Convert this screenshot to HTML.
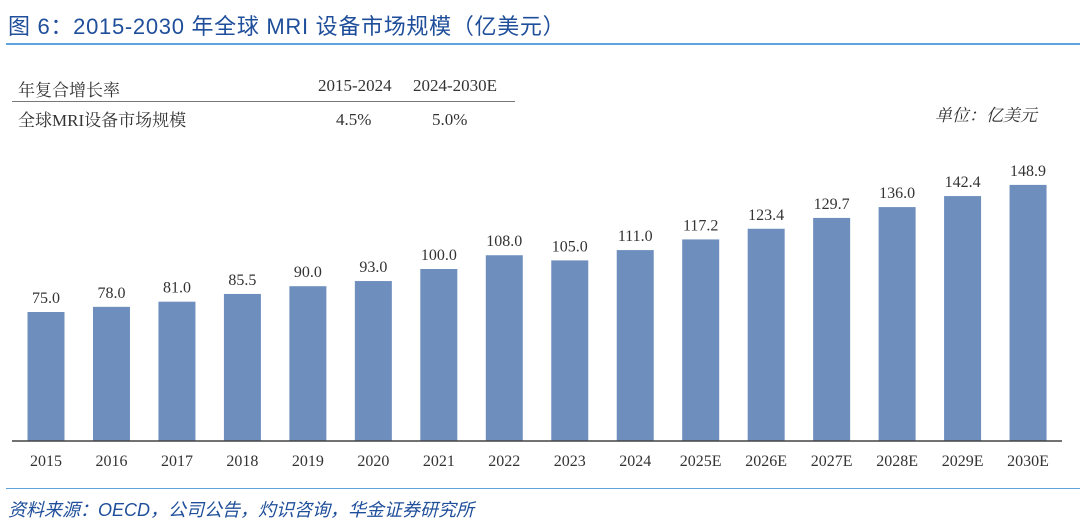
<!DOCTYPE html>
<html><head><meta charset="utf-8"><style>
body{margin:0;width:1080px;height:532px;background:#fff;overflow:hidden;font-family:"Liberation Serif","Noto Serif CJK SC",serif}
.t{position:absolute;white-space:nowrap}
</style></head><body>
<div class="t" style="left:8px;top:9px;font:22px 'Liberation Sans','Noto Sans CJK SC',sans-serif;letter-spacing:0.7px;color:#1f4e9a">图 6：2015-2030 年全球 MRI 设备市场规模（亿美元）</div>
<div style="position:absolute;left:6px;top:43px;width:1074px;height:2px;background:#5fa3dc"></div>
<div class="t" style="left:18px;top:76px;font-size:17px;color:#333">年复合增长率</div>
<div class="t" style="left:318px;top:76px;font-size:17px;color:#333">2015-2024</div>
<div class="t" style="left:413px;top:76px;font-size:17px;color:#333">2024-2030E</div>
<div style="position:absolute;left:12px;top:101px;width:503px;height:1px;background:#777"></div>
<div class="t" style="left:18px;top:106px;font-size:17px;color:#333">全球MRI设备市场规模</div>
<div class="t" style="left:336px;top:110px;font-size:17px;color:#333">4.5%</div>
<div class="t" style="left:432px;top:110px;font-size:17px;color:#333">5.0%</div>
<div class="t" style="left:935px;top:101px;font-size:17px;font-style:italic;color:#333">单位：亿美元</div>
<svg id="chart" width="1080" height="532" style="position:absolute;left:0;top:0"></svg>
<div style="position:absolute;left:6px;top:488px;width:1074px;height:1px;background:#5fa3dc"></div>
<div class="t" style="left:8px;top:496px;font:italic 18px 'Liberation Sans','Noto Sans CJK SC',sans-serif;color:#1f4e9a">资料来源：OECD，公司公告，灼识咨询，华金证券研究所</div>
<script>
const categories=["2015","2016","2017","2018","2019","2020","2021","2022","2023","2024","2025E","2026E","2027E","2028E","2029E","2030E"];
const values=[75.0,78.0,81.0,85.5,90.0,93.0,100.0,108.0,105.0,111.0,117.2,123.4,129.7,136.0,142.4,148.9];
const labels=["75.0","78.0","81.0","85.5","90.0","93.0","100.0","108.0","105.0","111.0","117.2","123.4","129.7","136.0","142.4","148.9"];
const svg=document.getElementById('chart');const NS='http://www.w3.org/2000/svg';
const base=441,scale=1.72,x0=46,step=65.47,bw=37;
const xs=i=>x0+i*step, ys=v=>base-v*scale;
function mk(t,a){const e=document.createElementNS(NS,t);for(const k in a)e.setAttribute(k,a[k]);svg.appendChild(e);return e;}
categories.forEach((c,i)=>{
 const b=mk('rect',{x:xs(i)-bw/2,y:ys(values[i]),width:bw,height:values[i]*scale,fill:'#6e8fbe'});
 
 
 const v=mk('text',{x:xs(i),y:ys(values[i])-9,'text-anchor':'middle','font-size':'16','fill':'#333','font-family':'Liberation Serif, serif'});v.textContent=labels[i];
 
 
 const t=mk('text',{x:xs(i),y:466,'text-anchor':'middle','font-size':'16','fill':'#333','font-family':'Liberation Serif, serif'});t.textContent=c;
 
 
});
const ax=mk('line',{x1:12,x2:1062,y1:base,y2:base,stroke:'#444','stroke-width':1.5});


</script>
</body></html>
